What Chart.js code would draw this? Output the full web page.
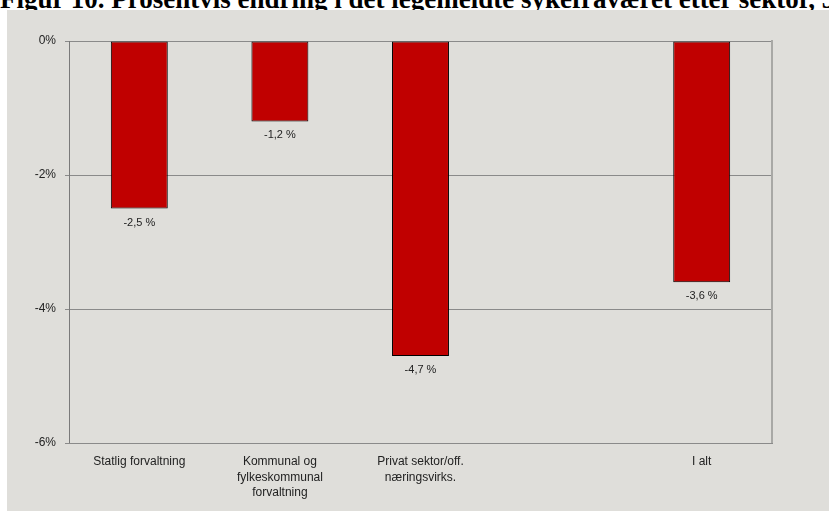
<!DOCTYPE html>
<html>
<head>
<meta charset="utf-8">
<script src="https://cdn.jsdelivr.net/npm/chart.js@4"></script>
<style>
  html, body { margin: 0; padding: 0; background: #fff; overflow: hidden; }
  body { width: 829px; height: 511px; position: relative; }
  #title {
    position: absolute; left: 0; top: -14.5px; white-space: nowrap;
    font: bold 27px/27px "Liberation Serif", "Times New Roman", serif; color: #000;
  }
  #panel {
    position: absolute; left: 7px; top: 10px; width: 822px; height: 501px;
    background: #dfdeda;
  }
</style>
</head>
<body>
<div id="title">Figur 10. Prosentvis endring i det legemeldte sykefraværet etter sektor, 3. kvartal</div>
<div id="panel"><canvas id="chart" width="822" height="501"></canvas></div>
<script>
var categories = [
  'Statlig forvaltning',
  ['Kommunal og', 'fylkeskommunal', 'forvaltning'],
  ['Privat sektor/off.', 'næringsvirks.'],
  '',
  'I alt',
]
var changes = [-2.5, -1.2, -4.7, null, -3.6]
var yTicks = [0, -2, -4, -6]

function pct(v) {
  return v.toFixed(1).replace('.', ',') + ' %'
}

// value labels under each bar
var barLabels = {
  id: 'barLabels',
  afterDatasetsDraw(chart) {
    var ctx = chart.ctx
    var meta = chart.getDatasetMeta(0)
    ctx.save()
    ctx.font = '11px "Liberation Sans", Arial, sans-serif'
    ctx.fillStyle = '#222'
    ctx.textAlign = 'center'
    ctx.textBaseline = 'middle'
    meta.data.forEach(function (bar, i) {
      var v = changes[i]
      if (v == null) return
      ctx.fillText(pct(v), bar.x, bar.y + 14)
    })
    ctx.restore()
  },
}

var ctx = document.getElementById('chart').getContext('2d')

new Chart(ctx, {
  type: 'bar',
  data: {
    labels: categories,
    datasets: [
      {
        data: changes,
        backgroundColor: '#c00000',
        borderColor: '#000',
        borderWidth: 1,
        borderSkipped: false,
        categoryPercentage: 1,
        barPercentage: 0.405,
      },
    ],
  },
  options: {
    responsive: false,
    animation: false,
    layout: { padding: { top: 31, right: 57, left: 0, bottom: 0 } },
    plugins: {
      legend: { display: false },
      tooltip: { enabled: false },
    },
    scales: {
      y: {
        min: -6,
        max: 0,
        afterFit(scale) { scale.width = 62 },
        afterBuildTicks(scale) { scale.ticks = yTicks.map(function (v) { return { value: v } }) },
        grid: {
          color: '#8a8a8a',
          lineWidth: 1,
          tickLength: 4,
          drawTicks: true,
        },
        border: { color: '#7a7a7a', width: 1 },
        ticks: {
          padding: 9,
          color: '#222',
          font: { size: 12, family: '"Liberation Sans", Arial, sans-serif' },
          callback: function (v) { return v + '%' },
        },
      },
      y2: {
        position: 'right',
        min: -6,
        max: 0,
        afterFit(scale) { scale.width = 0 },
        grid: { display: false },
        border: { color: '#a8a8a5', width: 2 },
        ticks: { display: false },
      },
      x: {
        afterFit(scale) { scale.height = 68 },
        grid: { display: false, drawTicks: false },
        border: { color: '#8a8a8a', width: 1 },
        ticks: {
          padding: 11,
          color: '#222',
          maxRotation: 0,
          autoSkip: false,
          font: { size: 12, family: '"Liberation Sans", Arial, sans-serif', lineHeight: 1.3 },
        },
      },
    },
  },
  plugins: [barLabels],
})
</script>
</body>
</html>
